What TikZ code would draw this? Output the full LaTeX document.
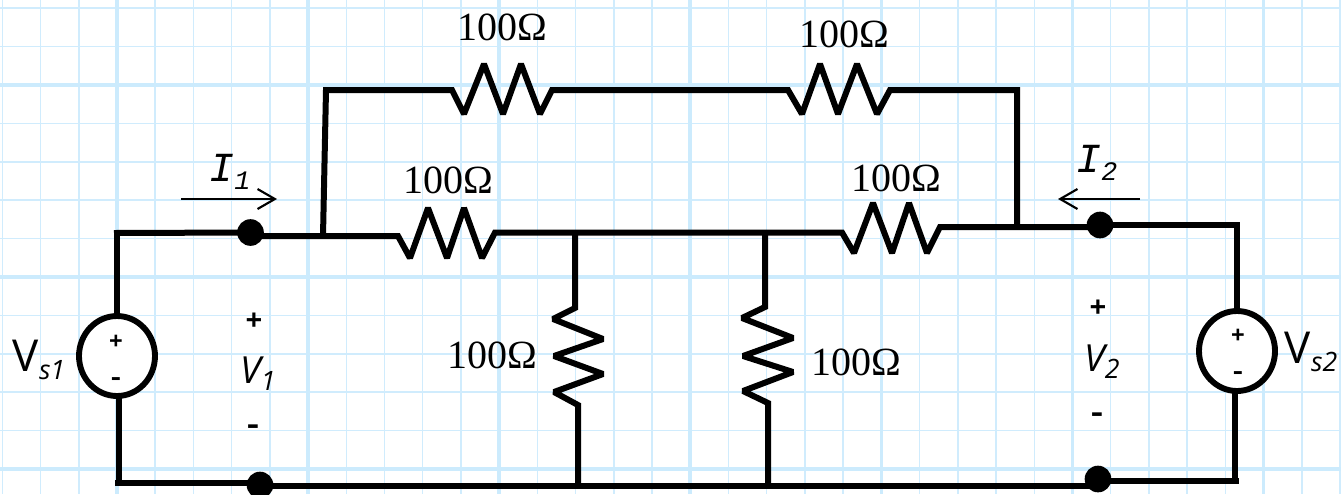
\documentclass[tikz,border=0pt]{standalone}
\usepackage{fontspec}
\setmainfont{Liberation Serif}
\newfontfamily\labelsans{Open Sans}
\newfontfamily\labelmono{Liberation Mono}
\usetikzlibrary{arrows.meta,shapes.geometric}
\definecolor{gridminor}{HTML}{D0ECFD}
\definecolor{gridmajor}{HTML}{CCEBFD}
\tikzset{
 wire/.style={line width=4.5pt,line cap=butt,line join=miter,miter limit=1.5,black},
 minorgrid/.style={line width=1.1pt,color=gridminor},
 majorgrid/.style={line width=2.8pt,color=gridmajor},
 srcring/.style={draw=black,fill=white,line width=4.4pt,ellipse,minimum width=57pt,minimum height=60pt,inner sep=0pt},
 solder/.style={circle,fill=black,minimum size=20pt,inner sep=0pt},
 ohm/.style={font=\fontsize{30pt}{30pt}\selectfont,inner sep=0pt},
 sourcetxt/.style={font=\labelsans\fontsize{33pt}{33pt}\selectfont,inner sep=0pt},
 polarity/.style={font=\labelsans\bfseries\fontsize{22pt}{22pt}\selectfont,inner sep=0pt},
 smallpolarity/.style={font=\labelsans\bfseries\fontsize{18pt}{18pt}\selectfont,inner sep=0pt},
 portv/.style={font=\labelsans\itshape\fontsize{28pt}{28pt}\selectfont,inner sep=0pt},
 porti/.style={font=\labelmono\itshape\fontsize{31pt}{31pt}\selectfont,inner sep=0pt},
 thinarrow/.style={line width=1.6pt,-{Straight Barb[length=13pt,width=15pt,line width=1.6pt]}},
}
\newcommand{\lowtxt}[2]{\raisebox{-.18em}{\fontsize{#1}{#1}\selectfont #2}}
\newcommand{\wideminus}{\scalebox{1.25}[1]{-}}
\begin{document}
\begin{tikzpicture}[x=0.75pt,y=-0.75pt]
\useasboundingbox (0,0) rectangle (1341,494);
\fill[white] (0,0) rectangle (1341,494);
% grid paper
\foreach \k in {-3,...,32} {
  \pgfmathsetmacro\gx{117+38.22*\k}
  \draw[minorgrid] (\gx,0) -- (\gx,494);
}
\foreach \k in {-2,...,11} {
  \pgfmathsetmacro\gy{85+38.4*\k}
  \draw[minorgrid] (0,\gy) -- (1341,\gy);
}
\foreach \k in {0,...,6} {
  \pgfmathsetmacro\gx{117+191.1*\k}
  \draw[majorgrid] (\gx,0) -- (\gx,494);
}
\foreach \k in {0,1,2} {
  \pgfmathsetmacro\gy{85+192*\k}
  \draw[majorgrid] (0,\gy) -- (1341,\gy);
}
% junction coordinates
\coordinate (tl) at (323,236);
\coordinate (ttl) at (326,90);
\coordinate (ttr) at (1017,90);
\coordinate (tr) at (1017,227);
\coordinate (cornerA) at (117,233);
\coordinate (cornerB) at (117,483);
\coordinate (cornerC) at (1237,225);
\coordinate (cornerD) at (1235,481);
\coordinate (midA) at (575,232.5);
\coordinate (midB) at (765,232.5);
\coordinate (botA) at (578,486);
\coordinate (botB) at (768,486);
% terminals and sources
\node[solder] (p1) at (250.5,232.5) {};
\node[solder] (p2) at (1100,225) {};
\node[solder] (p3) at (260,485) {};
\node[solder] (p4) at (1098,479) {};
% wires
\draw[wire] (114,233) -- (p1.center);
\draw[wire] (250,236) -- (tl) -- (398,236) -- (410,258) -- (428,208) -- (447,258) -- (464,208) -- (482,258) -- (495,232.5)
  -- (842,232.5) -- (854,253) -- (873,203) -- (892,253) -- (909,203) -- (927,253) -- (940,227) -- (1100,227);
\draw[wire] (tl) -- (ttl) -- (452,90) -- (464,114) -- (484,64) -- (503,114) -- (521,64) -- (540,114) -- (552,90)
  -- (788,90) -- (802,114) -- (820,64) -- (838,114) -- (857,64) -- (877,114) -- (890,90) -- (ttr) -- (tr);
\draw[wire] (midA) -- (575,308) -- (553,319) -- (603,339) -- (554,356) -- (603,374) -- (554,392) -- (578,405) -- (botA);
\draw[wire] (midB) -- (765,307) -- (742,318) -- (793,338) -- (743,356) -- (793,372) -- (743,391) -- (768,403) -- (botB);
\draw[wire] (p2.center) -- (cornerC) -- (1237,310);
\draw[wire] (p3.center |- 0,486) -- (1098,486);
\draw[wire] (p4.center |- 0,481) -- (1239,481);
\draw[wire] (cornerD) -- (1235,392);
\draw[wire] (119,483) -- (119,396);
\draw[wire] (cornerA) -- (117,316);
\draw[wire] (115,483) -- (p3.center |- 0,483);
\node[srcring] (vs1) at (117,356) {};
\node[srcring] (vs2) at (1237,351) {};
% arrows
\coordinate (a1s) at (181,199); \coordinate (a1e) at (277,199);
\coordinate (a2s) at (1140,199); \coordinate (a2e) at (1058,199);
\draw[thinarrow] (a1s) -- (a1e);
\draw[thinarrow] (a2s) -- (a2e);
% labels
\node[ohm] (r1) at (502,27) {100Ω};
\node[ohm] (r2) at (844,34) {100Ω};
\node[ohm] (r3) at (448,180) {100Ω};
\node[ohm] (r4) at (896,178) {100Ω};
\node[ohm] (r5) at (492,355) {100Ω};
\node[ohm] (r6) at (856,362) {100Ω};
\node[smallpolarity] (s1p) at (116,342) {+};
\node[smallpolarity] (s1m) at (116,382) {\wideminus};
\node[smallpolarity] (s2p) at (1238,336) {+};
\node[smallpolarity] (s2m) at (1238,376) {\wideminus};
\node[polarity] (v1p) at (254,322) {+};
\node[polarity] (v1m) at (253,430) {\wideminus};
\node[polarity] (v2p) at (1098,309) {+};
\node[polarity] (v2m) at (1097,418) {\wideminus};
\node[portv] (v1) at (258,374) {V\lowtxt{20pt}{1}};
\node[portv] (v2) at (1102,362) {V\lowtxt{20pt}{2}};
\node[porti] (i1) at (230,172) {I\lowtxt{20pt}{1}};
\node[porti] (i2) at (1097,163) {I\lowtxt{20pt}{2}};
\node[sourcetxt] (vs1t) at (39,360) {V\lowtxt{20pt}{\itshape s1}};
\node[sourcetxt] (vs2t) at (1311,352) {V\lowtxt{20pt}{\itshape s2}};
\end{tikzpicture}
\end{document}
